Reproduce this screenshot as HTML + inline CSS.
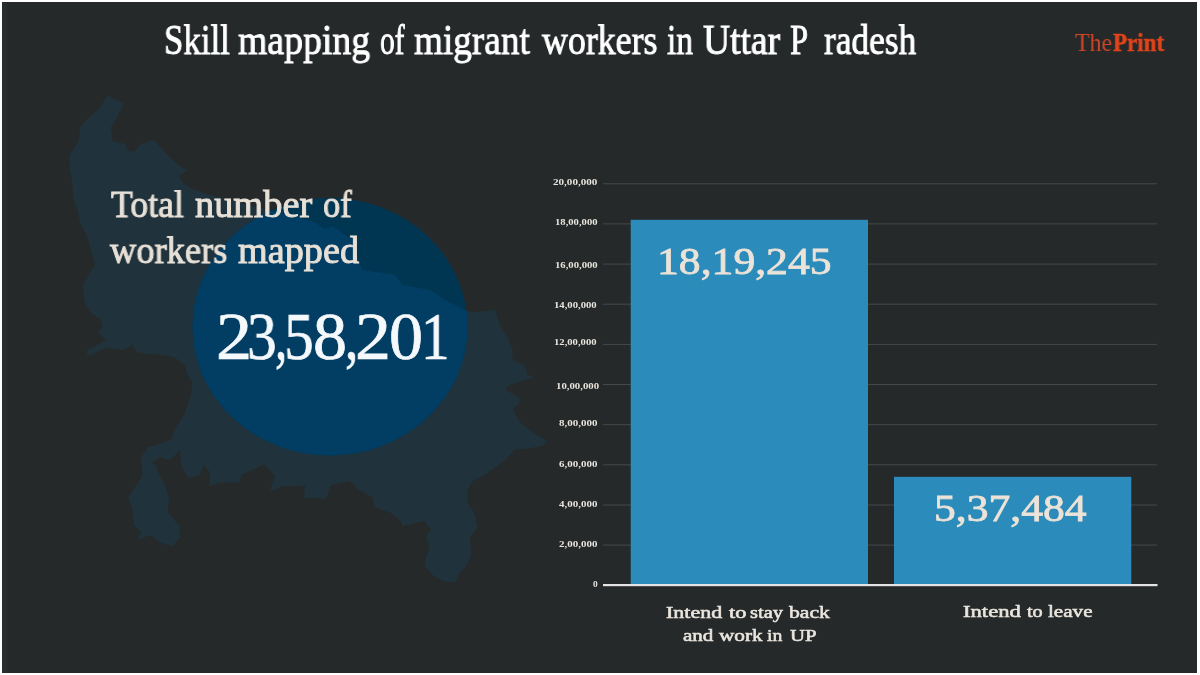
<!DOCTYPE html>
<html>
<head>
<meta charset="utf-8">
<title>Skill mapping of migrant workers in Uttar Pradesh</title>
<style>
  html, body { margin: 0; padding: 0; }
  body { width: 1200px; height: 675px; overflow: hidden; background: #ffffff; position: relative;
         font-family: "Liberation Serif", serif; }
  #canvas { position: absolute; left: 2px; top: 2px; width: 1195px; height: 670.7px; background: #25292a; overflow: hidden; }
  #art { position: absolute; left: -2px; top: -2px; width: 1200px; height: 675px; }
  .t { position: absolute; white-space: nowrap; line-height: 1; transform-origin: 0 0; display: block; will-change: transform; }
  .ttl { font-size: 42.5px; color: #ffffff; -webkit-text-stroke: 0.9px #ffffff; }
  .lgT { font-size: 25px; color: #cf4527; }
  .lgP { font-size: 25px; color: #e0441a; font-weight: bold; -webkit-text-stroke: 0.5px #e0441a; }
  .lead { font-size: 37px; color: #e7e0d7; -webkit-text-stroke: 0.9px #e7e0d7; }
  .big { font-size: 68px; color: #f5f9fc; -webkit-text-stroke: 0.7px #f5f9fc; }
  .yl { font-size: 9px; color: #e9e5dd; font-weight: bold; }
  .bn { font-size: 38px; color: #ece3d8; -webkit-text-stroke: 0.8px #ece3d8; }
  .xl { font-size: 17px; color: #ebe6df; -webkit-text-stroke: 0.55px #ebe6df; }
</style>
</head>
<body>
<div id="canvas">
<div id="art">
<svg id="bg" width="1200" height="675" viewBox="0 0 1200 675" style="position:absolute;left:0;top:0">
  <defs>
    <path id="up" d="M108,95.5 L124,104 L116,119 L111,127.5 L112.5,141 L125,144 L127.5,150 L134,152 L141,144 L152.5,140 L157.5,144 L167.5,155 L175,162.5 L187,170.5 L179,176 L182.5,182.5 L192.5,189 L210,195 L240,203 L267.5,210 L290,215 L315,222.5 L325,229 L333,226 L345,235 L355,242 L360,265 L362.5,270 L395,275 L402.5,285 L430,290 L445,300 L465,310 L472.5,312.5 L495,310 L500,325 L507.5,337.5 L512.5,350 L512.5,360 L524,365 L527.5,375 L535,377.5 L525,380 L507.5,386 L506,390 L519,397.5 L520,403 L512.5,409 L520,422.5 L535,434 L547.5,441 L542.5,446 L525,449 L515,449 L505,460 L495,467.5 L485,475 L472.5,481 L467.5,490 L467.5,502.5 L475,515 L477.5,527.5 L470,537.5 L471,555 L466,566 L460,572.5 L455,582.5 L442.5,581 L432.5,575 L425,566 L425,560 L430,547.5 L426,536 L431,530 L424,521 L402.5,526 L400,520 L390,512.5 L375,507.5 L372.5,497.5 L357.5,489 L350,481 L331,485 L326,499 L304,497.5 L305,485 L300,486 L282.5,486 L277.5,489 L270,490 L275,476 L264,464 L252.5,470 L241,475 L240,482.5 L220,482.5 L209,486 L210,472.5 L204,465 L200,475 L187.5,477.5 L181,465 L180,450 L170,460 L160,457.5 L151,462.5 L156,465 L159,475 L165,485 L169,497.5 L167.5,512.5 L179,525 L180,537.5 L172.5,546 L160,542.5 L150,535 L137.5,540 L141,532.5 L134,525 L132.5,510 L128,497.5 L135,487.5 L142.5,475 L141,457.5 L147.5,447.5 L171,440 L175,430 L185,412.5 L191,395 L192.5,382.5 L187.5,375 L185,365 L175,357.5 L162.5,355 L150,354 L137.5,352.5 L132.5,345 L122.5,350 L107.5,347.5 L87,356 L87.5,350 L106,340 L97.5,332.5 L102.5,327.5 L101,320 L91,312.5 L85,302.5 L82.5,287.5 L87.5,277.5 L95,265 L91,250 L87.5,237.5 L80,222.5 L77.5,210 L73,197.5 L72.5,182.5 L69.5,167.5 L70,155 L79,140 L80,127.5 L87.5,119 L99,109 Z"/>
    <clipPath id="ell"><ellipse cx="330" cy="326.75" rx="137.5" ry="128.75"/></clipPath>
  </defs>
  <!-- slightly lighter strip on far left -->
  <rect x="2" y="2" width="5" height="671" fill="#282d30"/>
  <use href="#up" fill="#20333d"/>
  <ellipse cx="330" cy="326.75" rx="137.5" ry="128.75" fill="#013653"/>
  <use href="#up" fill="#023e64" clip-path="url(#ell)"/>

  <!-- gridlines -->
  <g stroke="#45494b" stroke-width="1">
    <line x1="603" x2="1157" y1="183.8" y2="183.8"/>
    <line x1="603" x2="1157" y1="223.9" y2="223.9"/>
    <line x1="603" x2="1157" y1="264.1" y2="264.1"/>
    <line x1="603" x2="1157" y1="304.2" y2="304.2"/>
    <line x1="603" x2="1157" y1="344.4" y2="344.4"/>
    <line x1="603" x2="1157" y1="384.5" y2="384.5"/>
    <line x1="603" x2="1157" y1="424.7" y2="424.7"/>
    <line x1="603" x2="1157" y1="464.8" y2="464.8"/>
    <line x1="603" x2="1157" y1="505.0" y2="505.0"/>
    <line x1="603" x2="1157" y1="545.1" y2="545.1"/>
  </g>
  <!-- bars -->
  <rect x="630.7" y="219.8" width="237.3" height="364.4" fill="#2b8bbb"/>
  <rect x="894" y="476.8" width="237.3" height="107.4" fill="#2b8bbb"/>
  <!-- zero line -->
  <rect x="603" y="584" width="554.5" height="2.2" fill="#e4e4e4"/>
</svg>

<span class="t ttl" style="left:163.73px;top:19.41px;transform:scaleX(0.8201)">Skill</span>
<span class="t ttl" style="left:237.70px;top:19.41px;transform:scaleX(0.8883)">mapping</span>
<span class="t ttl" style="left:379.62px;top:19.41px;transform:scaleX(0.6916)">of</span>
<span class="t ttl" style="left:413.69px;top:19.41px;transform:scaleX(0.8756)">migrant</span>
<span class="t ttl" style="left:542.08px;top:19.41px;transform:scaleX(0.8440)">workers</span>
<span class="t ttl" style="left:667.06px;top:19.41px;transform:scaleX(0.7891)">in</span>
<span class="t ttl" style="left:702.70px;top:19.41px;transform:scaleX(0.8822)">Uttar</span>
<span class="t ttl" style="left:789.58px;top:19.41px;transform:scaleX(0.7626)">P</span>
<span class="t ttl" style="left:823.67px;top:19.41px;transform:scaleX(0.8309)">radesh</span>
<span class="t lead" style="left:110.93px;top:185.91px;transform:scaleX(0.9656)">Total</span>
<span class="t lead" style="left:194.97px;top:185.91px;transform:scaleX(1.0370)">number</span>
<span class="t lead" style="left:323.49px;top:185.91px;transform:scaleX(0.9299)">of</span>
<span class="t lead" style="left:109.74px;top:231.81px;transform:scaleX(0.9851)">workers</span>
<span class="t lead" style="left:238.17px;top:231.81px;transform:scaleX(1.0335)">mapped</span>
<span class="t big" style="left:215.55px;top:302.25px;transform:scaleX(1.0606)">2</span>
<span class="t big" style="left:247.48px;top:302.25px;transform:scaleX(0.8754)">3</span>
<span class="t big" style="left:275.42px;top:302.25px;transform:scaleX(0.7179)">,</span>
<span class="t big" style="left:284.38px;top:302.25px;transform:scaleX(0.8754)">5</span>
<span class="t big" style="left:313.17px;top:302.25px;transform:scaleX(0.9902)">8</span>
<span class="t big" style="left:344.70px;top:302.25px;transform:scaleX(0.7863)">,</span>
<span class="t big" style="left:355.36px;top:302.25px;transform:scaleX(1.0572)">2</span>
<span class="t big" style="left:389.07px;top:302.25px;transform:scaleX(0.9870)">0</span>
<span class="t big" style="left:421.37px;top:302.25px;transform:scaleX(0.8444)">1</span>
<span class="t bn" style="left:656.81px;top:241.78px;transform:scaleX(1.1485)">18,19,245</span>
<span class="t bn" style="left:933.91px;top:488.88px;transform:scaleX(1.1476)">5,37,484</span>
<span class="t xl" style="left:666.16px;top:604.06px;transform:scaleX(1.2927)">Intend</span>
<span class="t xl" style="left:728.66px;top:604.06px;transform:scaleX(1.3185)">to</span>
<span class="t xl" style="left:750.33px;top:604.06px;transform:scaleX(1.2028)">stay</span>
<span class="t xl" style="left:788.65px;top:604.06px;transform:scaleX(1.2734)">back</span>
<span class="t xl" style="left:682.84px;top:627.06px;transform:scaleX(1.2385)">and</span>
<span class="t xl" style="left:718.64px;top:627.06px;transform:scaleX(1.2504)">work</span>
<span class="t xl" style="left:767.02px;top:627.06px;transform:scaleX(1.1630)">in</span>
<span class="t xl" style="left:790.34px;top:627.06px;transform:scaleX(1.2233)">UP</span>
<span class="t xl" style="left:962.87px;top:602.76px;transform:scaleX(1.3309)">Intend</span>
<span class="t xl" style="left:1027.03px;top:602.76px;transform:scaleX(1.1904)">to</span>
<span class="t xl" style="left:1047.84px;top:602.76px;transform:scaleX(1.2408)">leave</span>
<span class="t lgT" style="left:1075.00px;top:29.86px;transform:scaleX(0.9543)">The</span>
<span class="t lgP" style="left:1113.03px;top:29.86px;transform:scaleX(0.9204)">Print</span>
<span class="t yl" style="left:553.00px;top:177.71px;transform:scaleX(1.2329)">20,00,000</span>
<span class="t yl" style="left:554.70px;top:218.46px;transform:scaleX(1.1808)">18,00,000</span>
<span class="t yl" style="left:554.70px;top:260.66px;transform:scaleX(1.1863)">16,00,000</span>
<span class="t yl" style="left:553.70px;top:300.96px;transform:scaleX(1.1863)">14,00,000</span>
<span class="t yl" style="left:554.20px;top:337.86px;transform:scaleX(1.1808)">12,00,000</span>
<span class="t yl" style="left:556.10px;top:381.76px;transform:scaleX(1.1945)">10,00,000</span>
<span class="t yl" style="left:558.50px;top:419.16px;transform:scaleX(1.2219)">8,00,000</span>
<span class="t yl" style="left:559.00px;top:459.71px;transform:scaleX(1.2188)">6,00,000</span>
<span class="t yl" style="left:559.00px;top:499.86px;transform:scaleX(1.2188)">4,00,000</span>
<span class="t yl" style="left:559.00px;top:539.66px;transform:scaleX(1.2188)">2,00,000</span>
<span class="t yl" style="left:593.30px;top:579.66px;transform:scaleX(1.0400)">0</span>
</div>
</div>
</body>
</html>
